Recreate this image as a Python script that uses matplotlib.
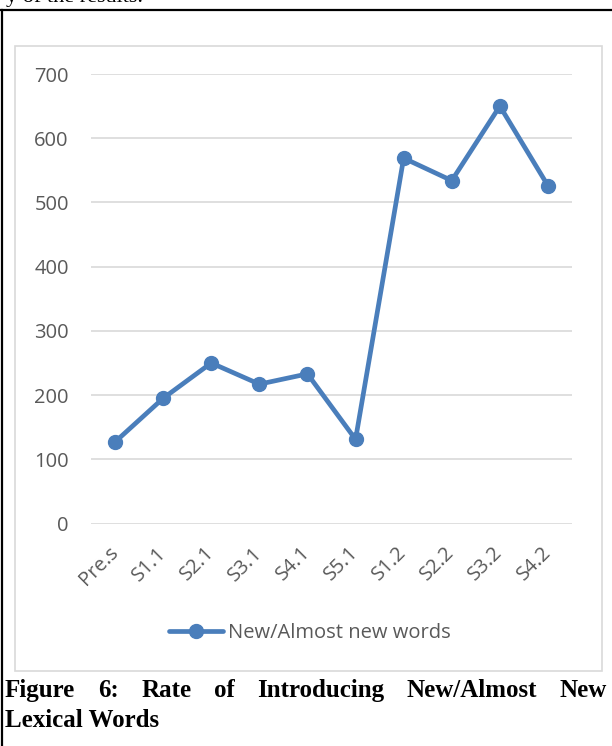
import matplotlib
matplotlib.use("Agg")
import matplotlib.pyplot as plt
from matplotlib.patches import Rectangle
from matplotlib.lines import Line2D

sessions = ["Pre.s", "S1.1", "S2.1", "S3.1", "S4.1", "S5.1", "S1.2", "S2.2", "S3.2", "S4.2"]
new_words = [127, 195, 250, 217, 233, 131, 569, 534, 650, 526]
y_ticks = [0, 100, 200, 300, 400, 500, 600, 700]
series_name = "New/Almost new words"
caption_line1 = ["Figure", "6:", "Rate", "of", "Introducing", "New/Almost", "New"]
caption_line2 = "Lexical Words"

W, H = 612, 746
BLUE = "#4a7ebb"
GREY_TXT = "#595959"
GRID = "#d9d9d9"
TICK_FS = 14.5

fig = plt.figure(figsize=(W / 100, H / 100), dpi=100)


def fx(px):
    return px / W


def fy(py):
    return 1 - py / H


# page border and chart frame
fig.add_artist(Line2D([0, 1], [fy(10), fy(10)], color="black", lw=1.6))
fig.add_artist(Line2D([fx(1.5), fx(1.5)], [fy(10), 0], color="black", lw=1.6))
fig.add_artist(Rectangle((fx(14.5), fy(671)), fx(602) - fx(14.5), fy(45.5) - fy(671),
                         fill=False, edgecolor=GRID, lw=1.2))

# text cut at the top of the page
fig.text(fx(6), fy(2), "y of the results.", family="Liberation Serif", fontsize=16,
         va="baseline", ha="left")

ax = fig.add_axes([fx(91), fy(523.5), fx(572) - fx(91), fy(74) - fy(523.5)])
x = list(range(len(sessions)))
ax.plot(x, new_words, color=BLUE, lw=3.4, marker="o", ms=10, clip_on=False,
        solid_joinstyle="round", solid_capstyle="round", label=series_name)
ax.set_xlim(-0.5, len(sessions) - 0.5)
ax.set_ylim(0, 700)
ax.set_yticks(y_ticks)
ax.set_yticklabels([str(v) for v in y_ticks], family="Open Sans", fontsize=TICK_FS, color=GREY_TXT)
ax.set_xticks(x)
ax.set_xticklabels(sessions, family="Open Sans", fontsize=TICK_FS, color=GREY_TXT,
                   rotation=45, ha="right", va="center", rotation_mode="anchor")
ax.tick_params(axis="both", length=0)
ax.tick_params(axis="y", pad=16)
ax.tick_params(axis="x", pad=19)
ax.grid(axis="y", color=GRID, lw=1.2)
ax.set_axisbelow(True)
for s in ax.spines.values():
    s.set_visible(False)

leg = fig.legend(loc="center", bbox_to_anchor=(fx(310), fy(633)), frameon=False,
                 handlelength=2.7, handletextpad=0.25,
                 prop={"family": "Open Sans", "size": TICK_FS})
for t in leg.get_texts():
    t.set_color(GREY_TXT)

# justified caption, first line spread across the page width
cap_font = dict(family="Liberation Serif", fontsize=18, weight="bold", va="baseline")
left, right = 5, 607
words = [fig.text(0, fy(697), w, **cap_font) for w in caption_line1]
renderer = fig.canvas.get_renderer()
widths = [w.get_window_extent(renderer).width for w in words]
gap = (right - left - sum(widths)) / (len(words) - 1)
pos = left
for w, wd in zip(words, widths):
    w.set_x(fx(pos))
    pos += wd + gap
fig.text(fx(left), fy(727), caption_line2, **cap_font)

fig.savefig("out.png", dpi=100)
